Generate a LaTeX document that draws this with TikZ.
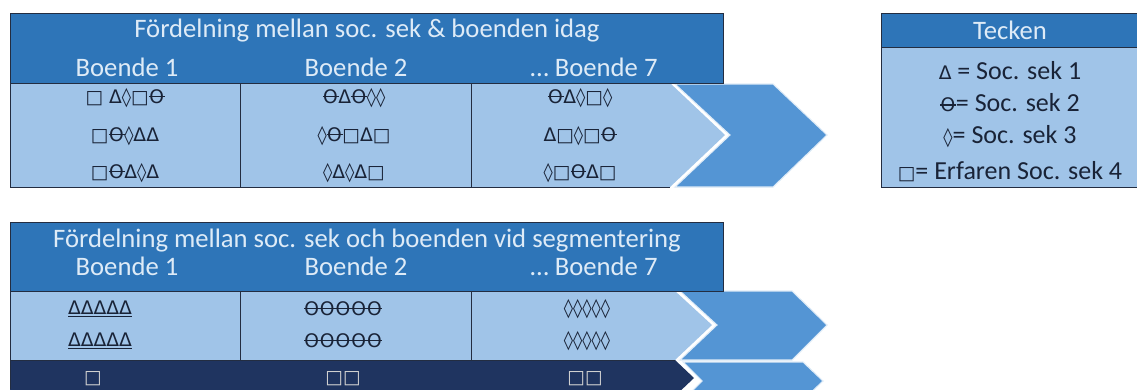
\documentclass[tikz,border=0pt]{standalone}
\usepackage{fontspec}
\setmainfont{Carlito}
\newfontfamily\symfont{DejaVu Sans}
\usepackage{tikz}

\definecolor{hdrblue}{RGB}{46,117,184}
\definecolor{bodyblue}{RGB}{160,196,232}
\definecolor{midblue}{RGB}{84,149,212}
\definecolor{navyblue}{RGB}{31,52,96}
\definecolor{hdrtext}{RGB}{222,235,247}
\definecolor{edgecol}{RGB}{35,45,65}
\definecolor{symcol}{RGB}{25,35,55}

\newcommand{\sym}[1]{{\symfont\fontsize{14}{16}\selectfont #1}}
\newcommand{\tht}{\makebox[0.84em][c]{\rlap{\rule[0.34em]{0.84em}{0.08em}}\hfil O\hfil}}

\begin{document}
\begin{tikzpicture}[x=0.75pt,y=0.75pt,yscale=-1,xscale=1,
  hdr/.style={text=hdrtext,inner sep=0.75pt,font=\fontsize{20}{23}\selectfont},
  cell/.style={text=symcol,inner sep=0.75pt},
  leg/.style={text=symcol,inner sep=0.75pt,font=\fontsize{19.5}{22}\selectfont},
  rule/.style={draw=edgecol,line width=0.6pt}]

\useasboundingbox (0,0) rectangle (1137,389);
\clip (0,0) rectangle (1137,389);

% top table
\fill [bodyblue] (10,83) -- (670,83) -- (725,135) -- (670,187) -- (10,187) -- cycle ;
\draw [fill=midblue,draw=hdrtext,line width=0.8pt] (675,84) -- (773,84) -- (827,135) -- (773,187) -- (675,187) -- (730,135) -- cycle ;
\draw [rule,fill=hdrblue] (10,13) rectangle (723,83) ;
\draw [rule] (10,83) -- (10,187) -- (670,187) ;
\draw [rule] (240,83) -- (240,187) (471,83) -- (471,187) ;

\draw (367,31) node (titleA) [hdr] {Fördelning mellan soc. sek \& boenden idag};
\draw (127,67) node (boA1) [hdr] {Boende 1};
\draw (356,67) node (boA2) [hdr] {Boende 2};
\draw (594,67) node (boA7) [hdr] {… Boende 7};

\draw (125,98) node (sA11) [cell] {\sym{□ Δ◊□\tht}};
\draw (125,136) node (sA12) [cell] {\sym{□\tht◊ΔΔ}};
\draw (125,173) node (sA13) [cell] {\sym{□\tht Δ◊Δ}};
\draw (354,98) node (sA21) [cell] {\sym{\tht Δ\tht◊◊}};
\draw (354,136) node (sA22) [cell] {\sym{◊\tht□Δ□}};
\draw (354,173) node (sA23) [cell] {\sym{◊Δ◊Δ□}};
\draw (580,98) node (sA71) [cell] {\sym{\tht Δ◊□◊}};
\draw (580,136) node (sA72) [cell] {\sym{Δ□◊□\tht}};
\draw (580,173) node (sA73) [cell] {\sym{◊□\tht Δ□}};

% legend
\draw [rule,fill=bodyblue] (881,13) rectangle (1145,187) ;
\draw [rule,fill=hdrblue] (881,13) rectangle (1145,47) ;
\draw (1010,30) node (tecken) [hdr] {Tecken};
\draw (1010,71) node (legA) [leg] {\sym{Δ} = Soc. sek 1};
\draw (1010,103) node (legB) [leg] {\sym{\tht}= Soc. sek 2};
\draw (1010,137) node (legC) [leg] {\sym{◊}= Soc. sek 3};
\draw (1010,172) node (legD) [leg] {\sym{□}= Erfaren Soc. sek 4};

% bottom table
\fill [bodyblue] (10,291) -- (675,291) -- (712,325) -- (675,360) -- (10,360) -- cycle ;
\draw [fill=midblue,draw=hdrtext,line width=0.8pt] (680,291) -- (792,291) -- (827,325) -- (792,360) -- (680,360) -- (717,325) -- cycle ;
\fill [navyblue] (10,360) -- (675,360) -- (694,378) -- (675,396) -- (10,396) -- cycle ;
\draw [fill=midblue,draw=hdrtext,line width=0.8pt] (683,362) -- (803,362) -- (823,381) -- (803,400) -- (683,400) -- (702,381) -- cycle ;
\draw [rule,fill=hdrblue] (10,222) rectangle (723,291) ;
\draw [rule] (10,291) -- (10,389) ;
\draw [rule] (10,360) -- (675,360) ;
\draw [rule] (240,291) -- (240,360) (471,291) -- (471,360) ;

\draw (367,241) node (titleB) [hdr] {Fördelning mellan soc. sek och boenden vid segmentering};
\draw (127,266) node (boB1) [hdr] {Boende 1};
\draw (356,266) node (boB2) [hdr] {Boende 2};
\draw (594,266) node (boB7) [hdr] {… Boende 7};

\draw (100,309) node (sB11) [cell] {\sym{\underline{ΔΔΔΔΔ}}};
\draw (100,341) node (sB12) [cell] {\sym{\underline{ΔΔΔΔΔ}}};
\draw (343,309) node (sB21) [cell] {\sym{\tht\tht\tht\tht\tht}};
\draw (343,341) node (sB22) [cell] {\sym{\tht\tht\tht\tht\tht}};
\draw (587,309) node (sB71) [cell] {\sym{◊◊◊◊◊}};
\draw (587,341) node (sB72) [cell] {\sym{◊◊◊◊◊}};

\draw (93,379) node (sB13) [cell,text=gray!35] {\sym{□}};
\draw (343,379) node (sB23) [cell,text=gray!35] {\sym{□□}};
\draw (585,379) node (sB73) [cell,text=gray!35] {\sym{□□}};

\end{tikzpicture}
\end{document}
